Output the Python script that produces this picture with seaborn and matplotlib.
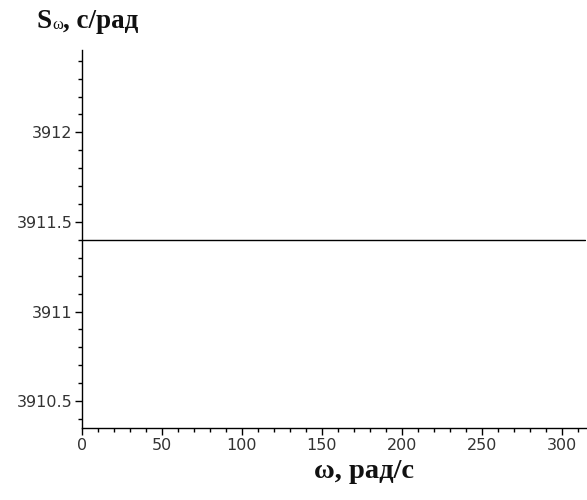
import numpy as np
import pandas as pd
import matplotlib
matplotlib.use("Agg")
import matplotlib.pyplot as plt
import seaborn as sns
from matplotlib.ticker import MultipleLocator

omega = [0.0, 314.16]
S_omega = [3911.4, 3911.4]
x_ticks = [0, 50, 100, 150, 200, 250, 300]
y_ticks = [3910.5, 3911, 3911.5, 3912]
y_labels = ["3910.5", "3911", "3911.5", "3912"]

sns.set_style("white")
plt.rcParams['font.family'] = ['DejaVu Sans']

df = pd.DataFrame({"omega": omega, "S": S_omega})

fig = plt.figure(figsize=(5.87, 5.00), dpi=100)
ax = fig.add_axes([82/587, 72/500, (586-82)/587, (428-50)/500])
sns.lineplot(data=df, x="omega", y="S", ax=ax, color="black", linewidth=1.0)

ax.set_xlim(0, 315)
ax.set_ylim(3910.35, 3912.46)
ax.set_xticks(x_ticks)
ax.set_xticklabels([str(t) for t in x_ticks])
ax.set_yticks(y_ticks)
ax.set_yticklabels(y_labels)
ax.xaxis.set_minor_locator(MultipleLocator(10))
ax.yaxis.set_minor_locator(MultipleLocator(0.1))
for s in ["top", "right"]:
    ax.spines[s].set_visible(False)
for s in ["left", "bottom"]:
    ax.spines[s].set_color("black")
    ax.spines[s].set_linewidth(1.0)
ax.tick_params(axis="both", which="major", direction="out", length=5, width=1, color="black",
               labelsize=11.5, labelcolor="#333333", pad=2, left=True, bottom=True)
ax.tick_params(axis="both", which="minor", direction="out", length=3, width=1, color="black",
               left=True, bottom=True)
ax.set_xlabel("")
ax.set_ylabel("")
ax.grid(False)

serif = ['Liberation Serif', 'DejaVu Serif']
fig.canvas.draw()
r = fig.canvas.get_renderer()
t1 = fig.text(37/587, 1 - 21/500, "S", fontsize=19.5, family=serif, va="center", ha="left",
              fontweight="bold", color="#111111")
bb = t1.get_window_extent(r)
t2 = fig.text(bb.x1/587 + 0.5/587, 1 - 25/500, "ω", fontsize=12, family=serif, va="center", ha="left",
              color="#111111")
bb2 = t2.get_window_extent(r)
fig.text(bb2.x1/587, 1 - 21/500, ", с/рад", fontsize=19.5, family=serif, va="center", ha="left",
         fontweight="bold", color="#111111")
fig.text(364/587, 1 - 471/500, "ω, рад/с", fontsize=20.5, family=serif,
         va="center", ha="center", fontweight="bold", color="#111111")

fig.savefig("out.png", dpi=100, facecolor="white")
